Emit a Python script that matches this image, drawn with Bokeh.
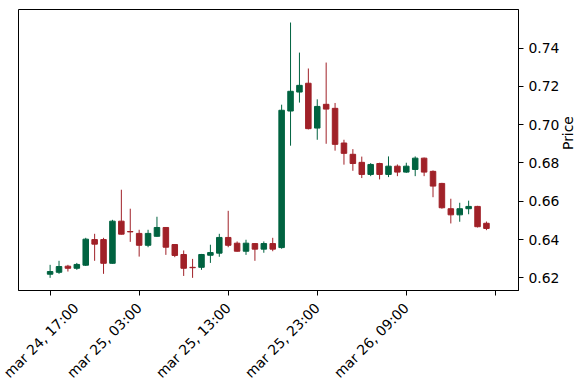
import math
from bokeh.plotting import figure
from bokeh.models import ColumnDataSource, FixedTicker, Range1d, NumeralTickFormatter
from bokeh.embed import file_html
from bokeh.resources import INLINE

# hourly candles starting mar 24, 17:00
opens = [0.6219, 0.6229, 0.6261, 0.6250, 0.6266, 0.6400, 0.6400, 0.6276, 0.6496, 0.6442,
         0.6432, 0.6370, 0.6417, 0.6463, 0.6374, 0.6322, 0.6255, 0.6255, 0.6318, 0.6329,
         0.6411, 0.6381, 0.6339, 0.6379, 0.6350, 0.6379, 0.6358, 0.7071, 0.7170, 0.7216,
         0.6982, 0.7106, 0.7085, 0.6904, 0.6845, 0.6803, 0.6740, 0.6797, 0.6740, 0.6783,
         0.6752, 0.6766, 0.6825, 0.6756, 0.6693, 0.6561, 0.6529, 0.6561, 0.6573, 0.6485]
highs = [0.6268, 0.6289, 0.6268, 0.6278, 0.6409, 0.6430, 0.6409, 0.6503, 0.6660, 0.6561,
         0.6451, 0.6451, 0.6519, 0.6465, 0.6376, 0.6343, 0.6299, 0.6325, 0.6373, 0.6430,
         0.6550, 0.6390, 0.6399, 0.6380, 0.6390, 0.6409, 0.7104, 0.7533, 0.7376, 0.7293,
         0.7132, 0.7324, 0.7113, 0.6921, 0.6872, 0.6833, 0.6799, 0.6801, 0.6834, 0.6792,
         0.6801, 0.6834, 0.6828, 0.6761, 0.6696, 0.6613, 0.6592, 0.6603, 0.6576, 0.6494]
lows = [0.6200, 0.6221, 0.6233, 0.6242, 0.6262, 0.6289, 0.6221, 0.6274, 0.6426, 0.6388,
        0.6311, 0.6360, 0.6415, 0.6320, 0.6308, 0.6210, 0.6200, 0.6242, 0.6278, 0.6310,
        0.6360, 0.6337, 0.6320, 0.6289, 0.6331, 0.6339, 0.6352, 0.6890, 0.7115, 0.6975,
        0.6921, 0.6900, 0.6864, 0.6791, 0.6759, 0.6721, 0.6731, 0.6714, 0.6726, 0.6731,
        0.6748, 0.6731, 0.6731, 0.6621, 0.6561, 0.6484, 0.6493, 0.6532, 0.6463, 0.6449]
closes = [0.6233, 0.6259, 0.6250, 0.6270, 0.6402, 0.6376, 0.6276, 0.6496, 0.6428, 0.6440,
          0.6370, 0.6432, 0.6463, 0.6360, 0.6317, 0.6250, 0.6253, 0.6322, 0.6332, 0.6411,
          0.6370, 0.6339, 0.6381, 0.6350, 0.6379, 0.6350, 0.7075, 0.7174, 0.7205, 0.6979,
          0.7095, 0.7081, 0.6897, 0.6850, 0.6797, 0.6740, 0.6792, 0.6740, 0.6783, 0.6752,
          0.6783, 0.6825, 0.6752, 0.6679, 0.6566, 0.6529, 0.6561, 0.6573, 0.6467, 0.6458]

tick_positions = [0, 10, 20, 30, 40, 50]
tick_labels = ["mar 24, 17:00", "mar 25, 03:00", "mar 25, 13:00",
               "mar 25, 23:00", "mar 26, 09:00", ""]
price_ticks = [0.62, 0.64, 0.66, 0.68, 0.70, 0.72, 0.74]

UP = "#006340"
DOWN = "#a02128"
FONT = "DejaVu Sans"

idx = list(range(len(opens)))
colors = [UP if c >= o else DOWN for o, c in zip(opens, closes)]
tops = [max(o, c) for o, c in zip(opens, closes)]
bottoms = [min(o, c) for o, c in zip(opens, closes)]

src = ColumnDataSource(dict(x=idx, open=opens, high=highs, low=lows, close=closes,
                            top=tops, bottom=bottoms, color=colors))

FW, FH = 500, 281
p = figure(frame_width=FW, frame_height=FH,
           x_range=Range1d(-3.55, 52.6), y_range=Range1d(0.6134, 0.7601),
           output_backend="svg", toolbar_location=None, y_axis_location="right",
           min_border_left=18, min_border_top=9, min_border_right=61, min_border_bottom=95)
p.background_fill_color = "white"
p.border_fill_color = "white"
p.grid.visible = False
p.outline_line_color = "black"
p.outline_line_width = 1
p.outline_line_alpha = 1

p.segment(x0="x", y0="high", x1="x", y1="low", source=src, line_color="color", line_width=1)
p.vbar(x="x", width=0.62, top="top", bottom="bottom", source=src,
       fill_color="color", line_color="color", line_width=1)

xa = p.xaxis[0]
xa.ticker = FixedTicker(ticks=tick_positions)
xa.major_label_overrides = {t: l for t, l in zip(tick_positions, tick_labels)}
xa.major_label_orientation = math.pi / 4
xa.minor_tick_line_color = None
xa.major_tick_in = 0
xa.major_tick_out = 5
xa.major_label_standoff = 10
xa.major_label_text_font = FONT
xa.major_label_text_font_size = "13.9px"
xa.major_label_text_color = "black"
xa.axis_line_color = "black"

ya = p.yaxis[0]
ya.ticker = FixedTicker(ticks=price_ticks)
ya.formatter = NumeralTickFormatter(format="0.00")
ya.minor_tick_line_color = None
ya.major_tick_in = 0
ya.major_tick_out = 5
ya.major_label_standoff = 5
ya.major_label_text_font = FONT
ya.major_label_text_font_size = "13.9px"
ya.major_label_text_color = "black"
ya.axis_line_color = "black"
ya.axis_label = "Price"
ya.axis_label_text_font = FONT
ya.axis_label_text_font_size = "13.9px"
ya.axis_label_text_font_style = "normal"
ya.axis_label_text_color = "black"
ya.axis_label_standoff = 6
try:
    ya.axis_label_orientation = math.pi / 2
except Exception:
    pass

open("out.html", "w").write(file_html(p, INLINE))
